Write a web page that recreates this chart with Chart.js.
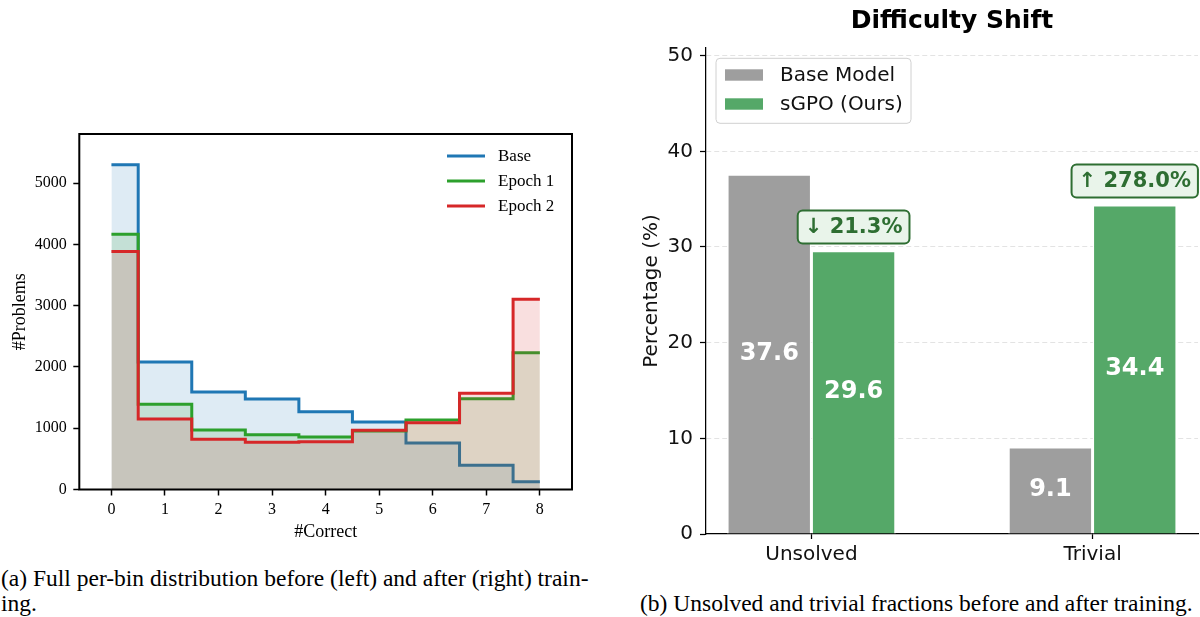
<!DOCTYPE html>
<html>
<head>
<meta charset="utf-8">
<script src="https://cdn.jsdelivr.net/npm/chart.js@4.4.1/dist/chart.umd.min.js"></script>
<style>
  body { margin: 0; background: #fff; width: 1200px; height: 617px; position: relative; overflow: hidden; }
  canvas { position: absolute; }
  .cap { position: absolute; font-family: "Liberation Serif", "Times New Roman", serif; font-size: 23.5px; line-height: 25px; color: #000; white-space: nowrap; }
</style>
</head>
<body>
<canvas id="histChart" width="600" height="460" style="left:0;top:100px"></canvas>
<canvas id="shiftChart" width="580" height="580" style="left:620px;top:0"></canvas>
<div class="cap" style="left:1px;top:566px">(a) Full per-bin distribution before (left) and after (right) train-<br>ing.</div>
<div class="cap" style="left:640px;top:591px">(b) Unsolved and trivial fractions before and after training.</div>
<script>
// left panel: problems per #correct bin
var correctBins = [0, 1, 2, 3, 4, 5, 6, 7, 8];
var baseCounts = [5300, 2080, 1590, 1475, 1270, 1100, 760, 395, 125];
var epoch1Counts = [4165, 1390, 970, 895, 855, 955, 1135, 1480, 2230];
var epoch2Counts = [3885, 1150, 820, 770, 780, 965, 1090, 1570, 3105];
var countTicks = [0, 1000, 2000, 3000, 4000, 5000];

// right panel: unsolved / trivial fractions (%)
var groupLabels = ["Unsolved", "Trivial"];
var baseModelPct = [37.6, 9.1];
var sgpoPct = [29.6, 34.4];
var pctTicks = [0, 10, 20, 30, 40, 50];

var serif = "'Liberation Serif', 'Times New Roman', serif";
var sans = "'DejaVu Sans', sans-serif";

function toPoints(xs, ys) {
  return xs.map(function (x, i) { return { x: x, y: ys[i] }; });
}

function stepSet(label, values, color, fillColor, order) {
  return {
    label: label,
    data: toPoints(correctBins, values),
    borderColor: color,
    backgroundColor: fillColor,
    borderWidth: 3,
    stepped: "middle",
    fill: "origin",
    pointRadius: 0,
    order: order,
  };
}

var framePlugin = {
  id: "frame",
  afterDatasetsDraw: function (chart) {
    var a = chart.chartArea, ctx = chart.ctx;
    ctx.save();
    ctx.strokeStyle = "#000";
    ctx.lineWidth = 2;
    ctx.strokeRect(a.left, a.top, a.right - a.left, a.bottom - a.top);
    // legend, top right inside the frame
    ctx.font = "17px " + serif;
    ctx.textBaseline = "middle";
    ctx.fillStyle = "#000";
    chart.data.datasets.forEach(function (ds, i) {
      var y = a.top + 22 + i * 25;
      ctx.strokeStyle = ds.borderColor;
      ctx.lineWidth = 3;
      ctx.beginPath();
      ctx.moveTo(a.right - 125, y);
      ctx.lineTo(a.right - 87, y);
      ctx.stroke();
      ctx.fillText(ds.label, a.right - 74, y + 1);
    });
    ctx.restore();
  },
};

new Chart(document.getElementById("histChart"), {
  type: "line",
  data: {
    datasets: [
      stepSet("Base", baseCounts, "#1f77b4", "rgba(31,119,180,0.15)", 3),
      stepSet("Epoch 1", epoch1Counts, "#2ca02c", "rgba(44,160,44,0.15)", 2),
      stepSet("Epoch 2", epoch2Counts, "#d62728", "rgba(214,39,40,0.15)", 1),
    ],
  },
  options: {
    responsive: false,
    animation: false,
    layout: { padding: { top: 34, right: 28, left: 0, bottom: 0 } },
    plugins: { legend: { display: false }, tooltip: { enabled: false } },
    scales: {
      x: {
        type: "linear",
        min: -0.6,
        max: 8.6,
        afterBuildTicks: function (s) { s.ticks = correctBins.map(function (v) { return { value: v }; }); },
        afterFit: function (s) { s.height = 70.5; },
        grid: { drawOnChartArea: false, tickLength: 6, tickColor: "#000", tickWidth: 1.5 },
        border: { display: false },
        ticks: { callback: function (v) { return String(v); }, font: { family: serif, size: 16 }, color: "#000", padding: 5, maxRotation: 0 },
        title: { display: true, text: "#Correct", color: "#000", font: { family: serif, size: 18 }, padding: { top: 0, bottom: 16.6 } },
      },
      y: {
        min: 0,
        max: 5800,
        afterBuildTicks: function (s) { s.ticks = countTicks.map(function (v) { return { value: v }; }); },
        afterFit: function (s) { s.width = 79.3; },
        grid: { drawOnChartArea: false, tickLength: 6, tickColor: "#000", tickWidth: 1.5 },
        border: { display: false },
        ticks: { callback: function (v) { return String(v); }, font: { family: serif, size: 16 }, color: "#000", padding: 6.5 },
        title: { display: true, text: "#Problems", color: "#000", font: { family: serif, size: 18 }, padding: { top: 9, bottom: 0 } },
      },
    },
  },
  plugins: [framePlugin],
});

var shiftPlugin = {
  id: "shiftLabels",
  afterDatasetsDraw: function (chart) {
    var ctx = chart.ctx, yScale = chart.scales.y;
    ctx.save();
    ctx.textAlign = "center";
    ctx.textBaseline = "middle";
    ctx.font = "bold 24px " + sans;
    ctx.fillStyle = "#fff";
    chart.data.datasets.forEach(function (ds, di) {
      chart.getDatasetMeta(di).data.forEach(function (bar, i) {
        ctx.fillText(ds.data[i].y.toFixed(1), bar.x, (bar.y + bar.base) / 2);
      });
    });
    // relative change boxes above the sGPO bars
    var meta = chart.getDatasetMeta(1);
    ctx.font = "bold 21px " + sans;
    groupLabels.forEach(function (g, i) {
      var change = (sgpoPct[i] - baseModelPct[i]) / baseModelPct[i] * 100;
      var txt = (change < 0 ? "\u2193 " : "\u2191 ") + Math.abs(change).toFixed(1) + "%";
      var cx = meta.data[i].x;
      var cy = yScale.getPixelForValue(sgpoPct[i] + 2.5);
      var w = ctx.measureText(txt).width + 14;
      var h = 33;
      ctx.beginPath();
      ctx.roundRect(cx - w / 2, cy - h / 2, w, h, 5);
      ctx.fillStyle = "#e9f4ea";
      ctx.fill();
      ctx.lineWidth = 2;
      ctx.strokeStyle = "#2e6e32";
      ctx.stroke();
      ctx.fillStyle = "#2e6e32";
      ctx.fillText(txt, cx, cy + 1);
    });
    ctx.restore();
  },
  afterDraw: function (chart) {
    var a = chart.chartArea, ctx = chart.ctx;
    var bx = a.left + 10, by = a.top + 10.3, bw = 195, bh = 65;
    ctx.save();
    ctx.beginPath();
    ctx.roundRect(bx, by, bw, bh, 4);
    ctx.fillStyle = "rgba(255,255,255,0.9)";
    ctx.fill();
    ctx.lineWidth = 1;
    ctx.strokeStyle = "#d0d0d0";
    ctx.stroke();
    ctx.font = "20px " + sans;
    ctx.textBaseline = "middle";
    chart.data.datasets.forEach(function (ds, i) {
      var y = by + 16.7 + i * 29;
      ctx.fillStyle = ds.backgroundColor;
      ctx.fillRect(bx + 9, y - 5.7, 38, 11.4);
      ctx.fillStyle = "#111";
      ctx.fillText(ds.label, bx + 64, y + 1);
    });
    ctx.restore();
  },
};

new Chart(document.getElementById("shiftChart"), {
  type: "bar",
  data: {
    datasets: [
      { label: "Base Model", data: toPoints([0, 1], baseModelPct), backgroundColor: "#9e9e9e", borderColor: "#fff", borderWidth: 1.5, categoryPercentage: 0.6, barPercentage: 1 },
      { label: "sGPO (Ours)", data: toPoints([0, 1], sgpoPct), backgroundColor: "#55a868", borderColor: "#fff", borderWidth: 1.5, categoryPercentage: 0.6, barPercentage: 1 },
    ],
  },
  options: {
    responsive: false,
    animation: false,
    layout: { padding: { top: 0, right: 2, left: 0, bottom: 0 } },
    plugins: {
      legend: { display: false },
      tooltip: { enabled: false },
      title: {
        display: true,
        text: "Difficulty Shift",
        fullSize: false,
        color: "#000",
        font: { family: sans, size: 25, weight: "bold" },
        padding: { top: 6, bottom: 12 },
      },
    },
    scales: {
      x: {
        type: "linear",
        min: -0.375,
        max: 1.375,
        offset: false,
        afterBuildTicks: function (s) { s.ticks = [{ value: 0 }, { value: 1 }]; },
        afterFit: function (s) { s.height = 46; },
        grid: { drawOnChartArea: false, offset: false, tickLength: 5, tickColor: "#000", tickWidth: 1.25 },
        border: { color: "#000", width: 1.25 },
        ticks: { callback: function (v) { return groupLabels[v]; }, font: { family: sans, size: 20 }, color: "#111", padding: 4, maxRotation: 0 },
      },
      y: {
        min: 0,
        max: 50.8,
        afterBuildTicks: function (s) { s.ticks = pctTicks.map(function (v) { return { value: v }; }); },
        afterFit: function (s) { s.width = 86; },
        grid: {
          color: function (c) { return c.tick && c.tick.value === 0 ? "rgba(0,0,0,0)" : "#e3e3e3"; },
          lineWidth: 1,
          tickLength: 6,
          tickColor: "#000",
          tickWidth: 1.25,
          tickBorderDash: [],
        },
        border: { color: "#000", width: 1.25, dash: [5, 3] },
        ticks: { font: { family: sans, size: 20 }, color: "#111", padding: 7 },
        title: { display: true, text: "Percentage (%)", color: "#111", font: { family: sans, size: 20 }, padding: { top: 19.5, bottom: 0 } },
      },
    },
  },
  plugins: [shiftPlugin],
});
</script>
</body>
</html>
